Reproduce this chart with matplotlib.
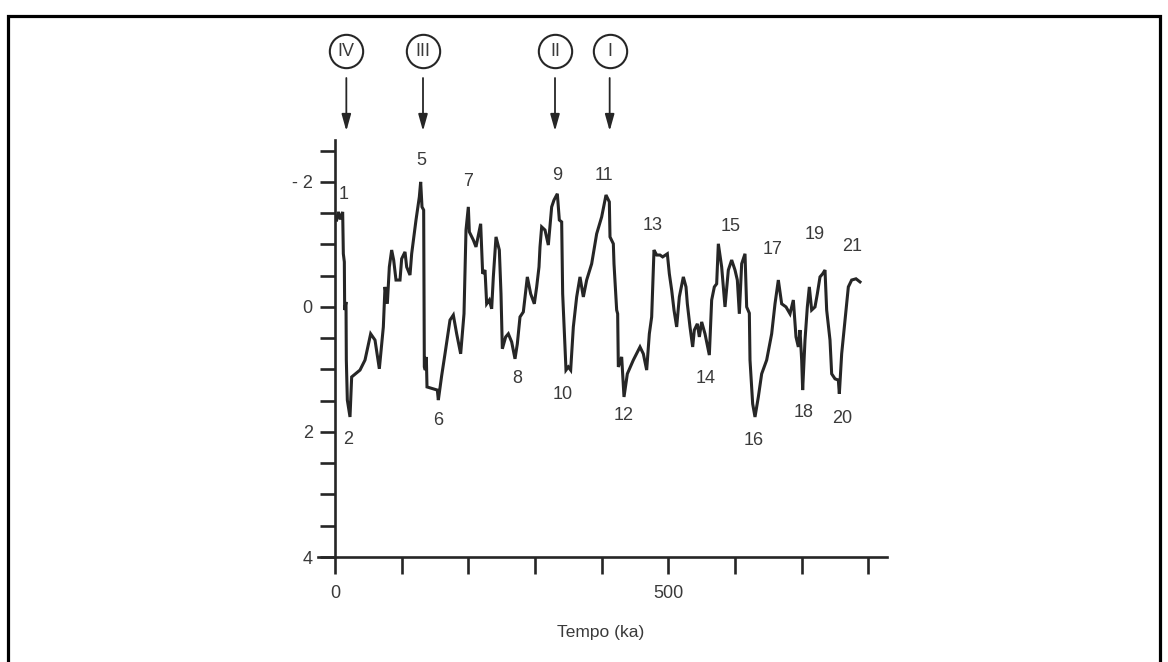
import matplotlib.pyplot as plt
from matplotlib.patches import Rectangle
from matplotlib.transforms import blended_transform_factory
import numpy as np

plt.rcParams['font.family'] = ['Liberation Sans', 'DejaVu Sans']

# tempo (ka) e valores
ka = [2.5, 5, 8, 11.5, 12.5, 14, 14.5, 16.5, 17, 17.5, 18.5, 22.5, 25, 37.5, 45, 53.5,
      60, 66.5, 72.5, 75, 78.5, 81.5, 85, 88, 91.5, 97.5, 100, 105, 107.5, 112.5, 115,
      121.5, 126.5, 128.5, 130.5, 133, 134, 135.5, 137, 138, 147.5, 153.5, 155,
      160, 165, 172.5, 177.5, 182.5, 188.5, 193.5, 196.5, 200, 201.5, 207.5, 211.5,
      218.5, 221.5, 225, 227.5, 231.5, 235, 237.5, 241.5, 246.5, 249, 251, 256, 260,
      265, 270, 273.5, 277.5, 282.5, 288.5, 293.5, 299, 302.5, 306, 307.5, 310, 315,
      320, 325, 328.5, 333.5, 336.5, 340, 341.5, 343.5, 345, 346.5, 350, 353.5, 357.5,
      362.5, 367.5, 372.5, 377.5, 385, 392.5, 400, 406.5, 411.5, 412.5, 417.5, 418.5,
      422.5, 424, 425, 430, 433.5, 438.5, 447.5, 457.5, 462.5, 467.5, 471.5, 475,
      476.5, 478.5, 482.5, 487.5, 491.5, 498.5, 501.5, 505, 508.5, 512.5, 516.5, 522.5,
      526.5, 528.5, 532.5, 536.5, 539, 543.5, 546.5, 550, 555, 561.5, 565, 569, 572.5,
      575, 580, 585, 590, 595, 600, 603.5, 606.5, 610, 615, 617.5, 621.5, 622.5, 626.5,
      630, 635, 640, 647.5, 655, 660, 665, 670, 676.5, 682.5, 687.5, 691.5, 695, 697.5,
      700, 701.5, 705, 708.5, 711.5, 715, 720, 723.5, 727.5, 731.5, 735, 737.5, 742.5,
      745, 750, 755, 756.5, 760, 765, 770, 775, 781.5, 787.5]
d18o = [-1.39, -1.52, -1.40, -1.52, -0.85, -0.72, 0.05, -0.08, 0.85, 1.07, 1.49, 1.76,
        1.12, 1.01, 0.85, 0.43, 0.53, 0.99, 0.32, -0.32, -0.05, -0.64, -0.91, -0.75,
        -0.43, -0.43, -0.77, -0.88, -0.64, -0.51, -0.85, -1.39, -1.76, -2.0, -1.6, -1.55,
        0.96, 1.01, 0.8, 1.28, 1.31, 1.33, 1.49,
        1.1, 0.75, 0.21, 0.13, 0.43, 0.75, 0.11, -1.23, -1.6, -1.2, -1.07, -0.96,
        -1.33, -0.53, -0.59, -0.05, -0.11, 0.03, -0.48, -1.12, -0.91, -0.21, 0.67, 0.48,
        0.43, 0.56, 0.83, 0.59, 0.16, 0.08, -0.48, -0.21, -0.05, -0.32, -0.64, -0.96,
        -1.28, -1.23, -0.99, -1.6, -1.71, -1.81, -1.39, -1.36, -0.21, 0.27, 0.64, 1.01,
        0.96, 1.01, 0.32, -0.16, -0.48, -0.16, -0.43, -0.69, -1.17, -1.44, -1.79, -1.68,
        -1.12, -1.01, -0.69, 0.05, 0.11, 0.96, 0.8, 1.44, 1.07, 0.85, 0.64, 0.75, 1.01,
        0.43, 0.16, -0.32, -0.91, -0.83, -0.83, -0.8, -0.85, -0.53, -0.27, 0.05, 0.32,
        -0.16, -0.48, -0.32, -0.05, 0.32, 0.64, 0.37, 0.27, 0.48, 0.24, 0.43, 0.77, -0.11,
        -0.32, -0.37, -1.01, -0.64, 0.0, -0.59, -0.75, -0.59, -0.43, 0.11, -0.69, -0.85,
        0.0, 0.1, 0.85, 1.55, 1.76, 1.44, 1.07, 0.85, 0.43, -0.05, -0.43, -0.05, 0.0,
        0.11, -0.11, 0.48, 0.64, 0.37, 0.85, 1.33, 0.53, 0.0, -0.32, 0.05, 0.0, -0.21,
        -0.48, -0.53, -0.59, 0.05, 0.53, 1.07, 1.15, 1.17, 1.39, 0.75, 0.21, -0.32, -0.43,
        -0.45, -0.4]

# rotulos dos estagios
stage_labels = ['1', '2', '5', '6', '7', '8', '9', '10', '11', '12', '13', '14', '15',
                '16', '17', '18', '19', '20', '21']
stage_x = [13, 20, 129, 155, 199.5, 273, 333, 342, 403.5, 433.5, 477, 556.5, 594,
           628.5, 657, 703.5, 720, 760.5, 775.5]
stage_y = [-1.8, 2.12, -2.35, 1.82, -2.01, 1.14, -2.11, 1.4, -2.11, 1.73, -1.31, 1.14,
           -1.29, 2.13, -0.92, 1.69, -1.16, 1.78, -0.97]

# eventos em numeros romanos
roman = ['IV', 'III', 'II', 'I']
roman_x = [17, 132, 330, 412]

yticks = [-2, 0, 2, 4]
ytick_labels = ['- 2', '0', '2', '4']
xticks = [0, 100, 200, 300, 400, 500, 600, 700, 800]
xtick_labels = ['0', '', '', '', '', '500', '', '', '']

W, H = 1168, 662
fig = plt.figure(figsize=(W / 100, H / 100), dpi=100)
ax = fig.add_axes([318 / W, 105 / H, 569 / W, 417 / H])

line_c = '#262626'
text_c = '#3a3a3a'

ax.plot(ka, d18o, color=line_c, lw=2.2, solid_joinstyle='miter')

ax.set_xlim(-25.5, 828)
ax.set_ylim(4, -2.67)

for s in ['top', 'right']:
    ax.spines[s].set_visible(False)
ax.spines['left'].set_position(('data', 0))
for s in ['left', 'bottom']:
    ax.spines[s].set_linewidth(1.9)
    ax.spines[s].set_color(line_c)

ax.set_yticks(yticks)
ax.set_yticklabels(ytick_labels)
ax.set_yticks(np.arange(-2.5, 4, 0.5), minor=True)
ax.set_xticks(xticks)
ax.set_xticklabels(xtick_labels)
ax.tick_params(axis='y', which='both', length=11, width=1.9, color=line_c,
               labelsize=13, labelcolor=text_c, pad=5)
ax.tick_params(axis='x', which='both', length=12, width=1.9, color=line_c,
               labelsize=13, labelcolor=text_c, pad=8)

for lab, x, y in zip(stage_labels, stage_x, stage_y):
    ax.text(x, y, lab, ha='center', va='center', fontsize=13, color=text_c)

tr = blended_transform_factory(ax.transData, fig.transFigure)
for lab, x in zip(roman, roman_x):
    ax.plot([x], [1 - 51 / H], marker='o', ms=24, mfc='white', mec=line_c, mew=1.5,
            transform=tr, clip_on=False)
    ax.text(x, 1 - 51 / H, lab, ha='center', va='center', fontsize=13, color=text_c,
            transform=tr)
    ax.annotate('', xy=(x, 1 - 131 / H), xytext=(x, 1 - 78 / H),
                xycoords=tr, textcoords=tr, annotation_clip=False,
                arrowprops=dict(arrowstyle='-|>,head_length=1.0,head_width=0.28',
                                color=line_c, lw=1.3, shrinkA=0, shrinkB=0))

fig.text(601 / W, 1 - 633 / H, 'Tempo (ka)', ha='center', va='center', fontsize=12.5,
         color=text_c)

fig.patches.append(Rectangle((8 / W, -0.1), 1152 / W, 1.1 - 16 / H, transform=fig.transFigure,
                             fill=False, ec='black', lw=2.3))

fig.savefig('out.png', dpi=100)
